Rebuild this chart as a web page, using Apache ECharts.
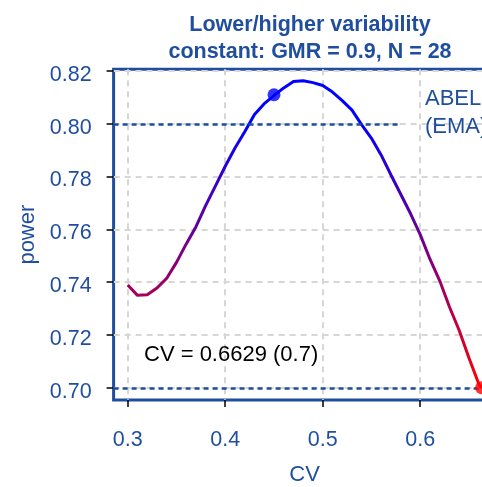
<!DOCTYPE html>
<html>
<head>
<meta charset="utf-8">
<script src="https://cdn.jsdelivr.net/npm/echarts@6/dist/echarts.min.js"></script>
<style>
html,body{margin:0;padding:0;background:#fff;}
#chart{width:482px;height:487px;}
</style>
</head>
<body>
<div id="chart"></div>
<script>
// ---- data ----
const cvValues = [0.30,0.31,0.32,0.33,0.34,0.35,0.36,0.37,0.38,0.39,0.40,0.41,0.42,0.43,0.44,0.45,0.46,0.47,0.48,0.49,0.50,0.51,0.52,0.53,0.54,0.55,0.56,0.57,0.58,0.59,0.60,0.61,0.62,0.63,0.64,0.65,0.66,0.6629];
const powerValues = [0.7389,0.7350,0.7352,0.7378,0.7415,0.7475,0.7545,0.7610,0.7691,0.7765,0.7839,0.7908,0.7970,0.8035,0.8076,0.8107,0.8136,0.8160,0.8163,0.8156,0.8145,0.8120,0.8088,0.8052,0.7996,0.7945,0.7881,0.7806,0.7733,0.7660,0.7580,0.7487,0.7405,0.7306,0.7217,0.7113,0.7015,0.7000];
const maxPoint = [0.45, 0.811];
const endPoint = [0.6629, 0.70];
const xTickValues = [0.3, 0.4, 0.5, 0.6];
const yTickValues = [0.70, 0.72, 0.74, 0.76, 0.78, 0.80, 0.82];
const abelLevel = 0.80;
const abelLineEnd = 0.578;
const targetLevel = 0.70;
const xRange = [0.2855, 0.6774];
const yRange = [0.69536, 0.82064];
const colorRange = [0.70, 0.80];
const titleLines = ['Lower/higher variability', 'constant: GMR = 0.9, N = 28'];
const cvNote = 'CV = 0.6629 (0.7)';
const abelNote = ['ABEL', '(EMA)'];

const BLUE = '#1f4e9e';
const FONT = '"Liberation Sans", Arial, sans-serif';

const chart = echarts.init(document.getElementById('chart'));
chart.setOption({
  animation: false,
  backgroundColor: '#fff',
  textStyle: { fontFamily: FONT },
  title: {
    text: titleLines.join('\n'),
    left: 305, top: 7, textAlign: 'center',
    textStyle: { fontFamily: FONT, fontSize: 21.5, fontWeight: 'bold', color: BLUE, lineHeight: 27 }
  },
  grid: {
    left: 113.6, top: 69.3, width: 382.1, height: 330.7,
    outerBoundsMode: 'none', containLabel: false,
    show: true, borderColor: BLUE, borderWidth: 3, backgroundColor: 'transparent'
  },
  xAxis: {
    type: 'value', min: xRange[0], max: xRange[1],
    name: 'CV', nameLocation: 'middle', nameGap: 64,
    nameTextStyle: { fontFamily: FONT, fontSize: 22, color: BLUE },
    axisLine: { show: false },
    axisTick: { show: true, customValues: xTickValues, length: 7, inside: false, lineStyle: { color: '#000', width: 1.5 } },
    axisLabel: { customValues: xTickValues, margin: 29, fontFamily: FONT, fontSize: 21.5, color: BLUE,
      formatter: v => v.toFixed(1) },
    splitLine: { show: true, lineStyle: { color: '#d6d6d6', width: 2, type: [6, 5] } }
  },
  yAxis: {
    type: 'value', min: yRange[0], max: yRange[1],
    name: 'power', nameLocation: 'middle', nameGap: 70,
    nameTextStyle: { fontFamily: FONT, fontSize: 22, color: BLUE },
    axisLine: { show: false },
    axisTick: { show: true, customValues: yTickValues, length: 7, inside: false, lineStyle: { color: '#000', width: 1.5 } },
    axisLabel: { customValues: yTickValues, margin: 22, fontFamily: FONT, fontSize: 21.5, color: BLUE,
      formatter: v => '{v|' + v.toFixed(2) + '}',
      rich: { v: { fontFamily: FONT, fontSize: 21.5, color: BLUE, padding: [8, 0, 0, 0] } } },
    splitLine: { show: true, lineStyle: { color: '#d6d6d6', width: 2, type: [6, 5] } }
  },
  visualMap: {
    show: false, type: 'continuous', seriesIndex: 0, dimension: 1,
    min: colorRange[0], max: colorRange[1],
    inRange: { color: ['#ff0000', '#0000ff'] }
  },
  series: [
    {
      type: 'line', data: cvValues.map((c, i) => [c, powerValues[i]]),
      showSymbol: false, symbol: 'none', smooth: false,
      lineStyle: { width: 3 }, z: 3
    },
    {
      type: 'line', data: [], silent: true, z: 4,
      markLine: {
        silent: true, symbol: ['none', 'none'], animation: false,
        label: { show: false },
        lineStyle: { color: BLUE, width: 2.5, type: [5, 4] },
        data: [
          [{ coord: [xRange[0], abelLevel] }, { coord: [abelLineEnd, abelLevel] }],
          [{ coord: [xRange[0], targetLevel] }, { coord: [xRange[1], targetLevel] }]
        ]
      }
    },
    {
      type: 'scatter', data: [maxPoint], symbol: 'circle', symbolSize: 13,
      itemStyle: { color: '#0000ff' }, z: 5
    },
    {
      type: 'scatter', data: [endPoint], symbol: 'circle', symbolSize: 13,
      itemStyle: { color: '#ff0000' }, z: 5
    }
  ],
  graphic: [
    { type: 'text', left: 144, top: 344, z: 10,
      style: { text: cvNote, fontFamily: FONT, fontSize: 22, fill: '#000' } },
    { type: 'text', left: 425, top: 85, z: 10,
      style: { text: abelNote.join('\n'), fontFamily: FONT, fontSize: 22, lineHeight: 28, fill: BLUE } }
  ]
});
</script>
</body>
</html>
